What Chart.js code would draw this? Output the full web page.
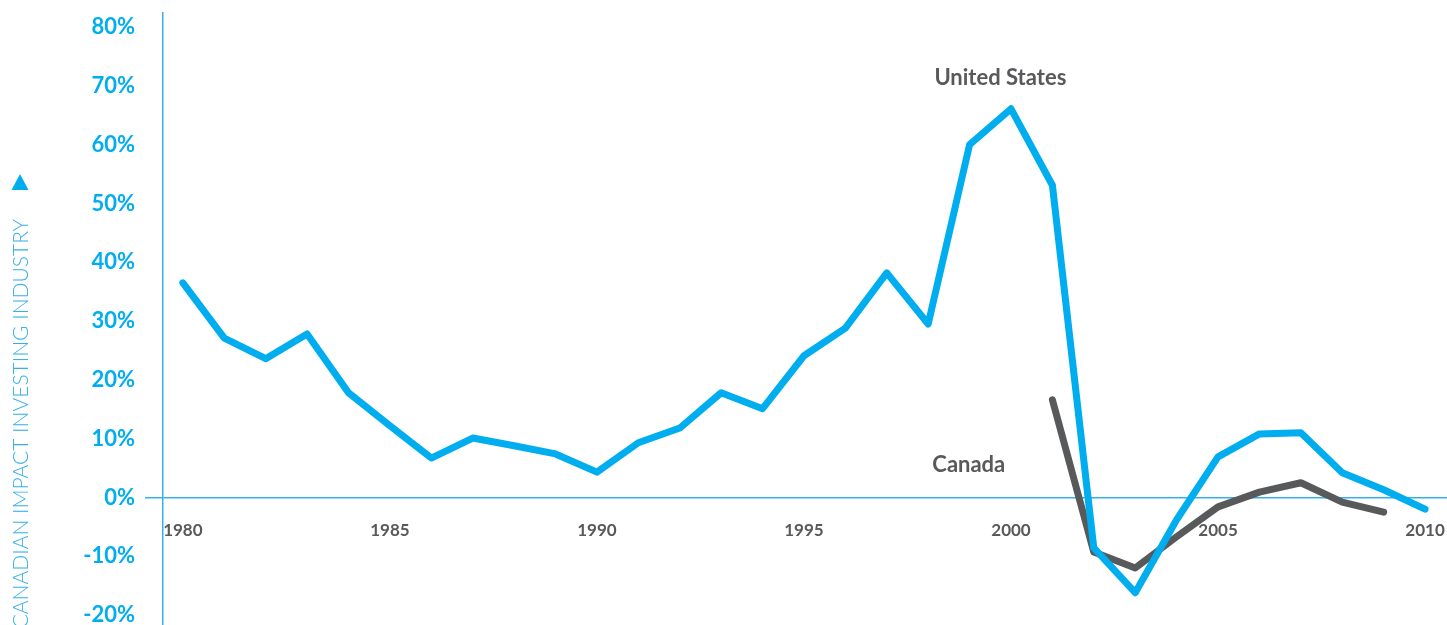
<!DOCTYPE html>
<html><head><meta charset="utf-8">
<script src="https://cdn.jsdelivr.net/npm/chart.js@4.4.0/dist/chart.umd.min.js"></script>
<style>html,body{margin:0;padding:0;background:#fff}#wrap{width:1447px;height:625px;position:relative}</style>
</head><body><div id="wrap"><canvas id="c" width="1447" height="625"></canvas></div>
<script>
const years = [1980,1981,1982,1983,1984,1985,1986,1987,1988,1989,1990,1991,1992,1993,1994,1995,1996,1997,1998,1999,2000,2001,2002,2003,2004,2005,2006,2007,2008,2009,2010];
const usValues = [36.5,27.1,23.6,27.8,17.8,12.2,6.7,10.1,8.8,7.4,4.3,9.3,11.8,17.8,15.1,24.1,28.8,38.2,29.5,60.0,66.1,53.1,-8.6,-16.2,-3.8,6.9,10.8,11.0,4.2,1.3,-2.0];
const canadaYears = [2001,2002,2003,2004,2005,2006,2007,2008,2009];
const canadaValues = [16.6,-9.3,-12.0,-6.7,-1.6,0.9,2.5,-0.8,-2.5];
const xTickYears = [1980,1985,1990,1995,2000,2005,2010];
const xTickLabels = ['1980','1985','1990','1995','2000','2005','2010'];
const yTickValues = [-20,-10,0,10,20,30,40,50,60,70,80];
const yTickLabels = ['-20%','-10%','0%','10%','20%','30%','40%','50%','60%','70%','80%'];
const seriesNames = ['United States','Canada'];
const axisTitle = 'CANADIAN IMPACT INVESTING INDUSTRY';

const BLUE = '#00aeef';
const AXIS = '#35b1e6';
const GRAY = '#58595b';

const decor = {
  id: 'decor',
  afterDatasetsDraw(chart) {
    const {ctx, scales: {x, y}} = chart;
    ctx.save();
    ctx.fillStyle = GRAY;
    ctx.font = 'bold 22px Lato, "Open Sans", sans-serif';
    ctx.textAlign = 'left';
    ctx.textBaseline = 'middle';
    ctx.fillText(seriesNames[0], x.getPixelForValue(1998.15), y.getPixelForValue(71.3));
    ctx.fillText(seriesNames[1], x.getPixelForValue(1998.1), y.getPixelForValue(5.5));
    ctx.fillStyle = AXIS;
    ctx.font = '300 21px Lato, "Open Sans", sans-serif';
    ctx.translate(21, 219);
    ctx.rotate(-Math.PI / 2);
    ctx.textAlign = 'right';
    ctx.fillText(axisTitle, 0, 0);
    ctx.restore();
    ctx.save();
    ctx.fillStyle = BLUE;
    ctx.beginPath();
    ctx.moveTo(20, 174);
    ctx.lineTo(28.5, 190);
    ctx.lineTo(11.5, 190);
    ctx.closePath();
    ctx.fill();
    ctx.restore();
  }
};

new Chart(document.getElementById('c'), {
  type: 'line',
  data: {
    datasets: [
      {label: seriesNames[0], data: years.map((yr, i) => ({x: yr, y: usValues[i]})), borderColor: BLUE, borderWidth: 7, pointRadius: 0, tension: 0, borderCapStyle: 'round', borderJoinStyle: 'round', fill: false},
      {label: seriesNames[1], data: canadaYears.map((yr, i) => ({x: yr, y: canadaValues[i]})), borderColor: GRAY, borderWidth: 7, pointRadius: 0, tension: 0, borderCapStyle: 'round', borderJoinStyle: 'round', fill: false}
    ]
  },
  options: {
    responsive: false,
    animation: false,
    events: [],
    layout: {padding: {left: 0, right: 0, top: 13, bottom: 0}},
    plugins: {legend: {display: false}, tooltip: {enabled: false}},
    scales: {
      x: {
        type: 'linear', min: 1979.52, max: 2010.53,
        position: {y: 0},
        afterBuildTicks: s => { s.ticks = xTickYears.map(v => ({value: v})); },
        afterFit: s => { s.height = 0; s.paddingLeft = 0; s.paddingRight = 0; s.paddingTop = 0; s.paddingBottom = 0; },
        ticks: {
          callback: v => xTickLabels[xTickYears.indexOf(v)] ?? '',
          color: GRAY, font: {family: 'Lato, "Open Sans", sans-serif', weight: 'bold', size: 17},
          padding: 23, maxRotation: 0, autoSkip: false
        },
        grid: {display: false, drawTicks: false},
        border: {display: false}
      },
      y: {
        min: -21.7, max: 82.4,
        afterBuildTicks: s => { s.ticks = yTickValues.map(v => ({value: v})); },
        afterFit: s => { s.width = 163; s.paddingTop = 0; s.paddingBottom = 0; s.paddingLeft = 0; s.paddingRight = 0; },
        ticks: {
          callback: v => yTickLabels[yTickValues.indexOf(v)] ?? '',
          color: BLUE, font: {family: 'Lato, "Open Sans", sans-serif', weight: 'bold', size: 22},
          padding: 10, autoSkip: false
        },
        grid: {color: c => (c.tick && c.tick.value === 0) ? AXIS : 'rgba(0,0,0,0)', lineWidth: 1.5, tickLength: 18, drawTicks: true},
        border: {color: AXIS, width: 1.5}
      }
    }
  },
  plugins: [decor]
});
</script>
</body></html>
